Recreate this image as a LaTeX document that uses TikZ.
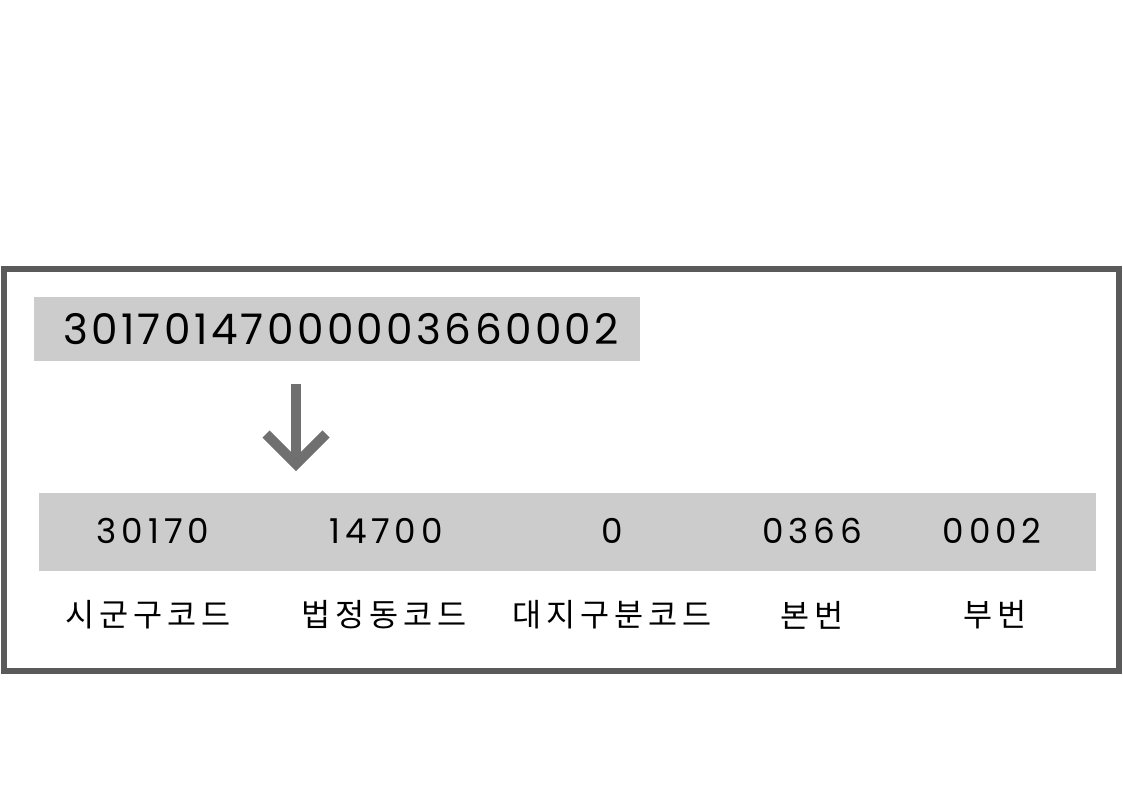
\documentclass[tikz,border=0pt]{standalone}
\usepackage{fontspec}
\setmainfont{Poppins}[LetterSpace=8]
\newfontfamily\wide{Poppins}[LetterSpace=14]
\newfontfamily\kr{Noto Sans CJK KR}[LetterSpace=16]
\usetikzlibrary{calc}
\definecolor{framegray}{HTML}{5A5A5A}
\definecolor{boxgray}{HTML}{CCCCCC}
\definecolor{arrowgray}{HTML}{707070}
\begin{document}
\begin{tikzpicture}[x=0.02cm, y=-0.02cm,
  digit/.style={font=\wide\fontsize{19.5pt}{19.5pt}\selectfont, anchor=center},
  field/.style={font=\kr\fontsize{18pt}{18pt}\selectfont, anchor=center}]
\useasboundingbox (0,0) rectangle (1123,794);
\draw[framegray, line width=3.4pt] (4,269) rectangle (1119,671);
\fill[boxgray] (34,297) rectangle (640,361);
\node[font=\fontsize{24pt}{24pt}\selectfont] (full) at (341,329) {30170147000003660002};
\node[fill=boxgray, minimum width=1061*0.567pt, minimum height=78*0.567pt, inner sep=0pt] (bar) at (567.5,532) {};
% split code
\node[digit] (sgg) at (153,531) {30170};
\node[digit] (bjd) at (386,531) {14700};
\node[digit] (djg) at (612,531) {0};
\node[digit] (bon) at (812,531) {0366};
\node[digit] (bu) at (992,531) {0002};
\node[field] (sggl) at (148,615) {시군구코드};
\node[field] (bjdl) at (384,615) {법정동코드};
\node[field] (djgl) at (612,615) {대지구분코드};
\node[field] (bonl) at (812,615) {본번};
\node[field] (bul) at (995,615) {부번};
% arrow
\coordinate (a1) at (296,384);
\coordinate (a2) at (296,464);
\draw[arrowgray, line width=5.7pt] (a1) -- (a2);
\draw[arrowgray, line width=5.7pt, miter limit=10] ($(a2)+(-30,-30)$) -- (a2) -- ($(a2)+(30,-30)$);
\end{tikzpicture}
\end{document}
